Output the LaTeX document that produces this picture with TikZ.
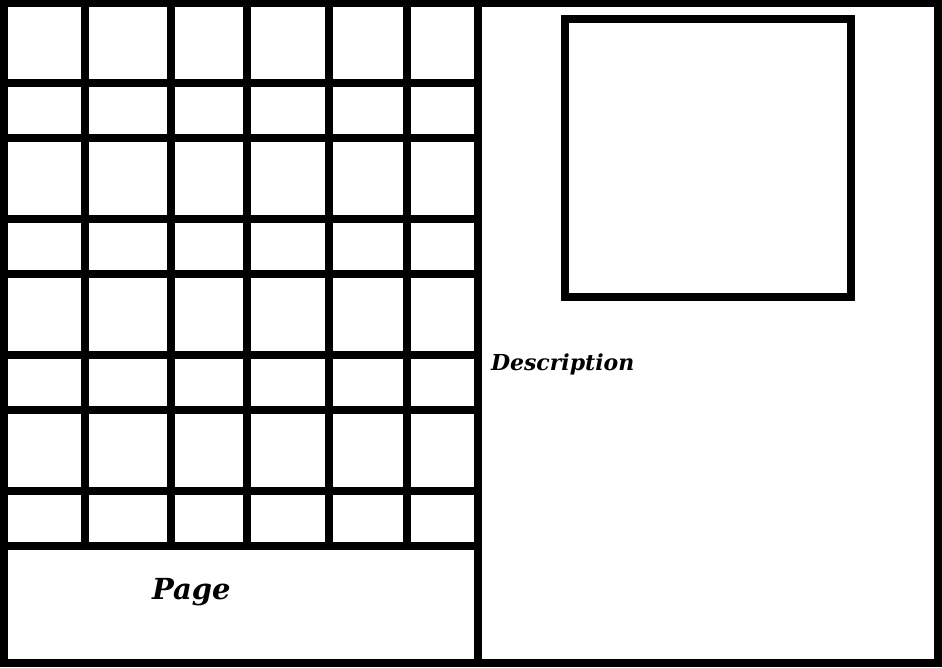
\documentclass[tikz,border=0pt]{standalone}
\usepackage{fontspec}
\newfontfamily\handfont{DejaVu Serif}

\begin{document}
\begin{tikzpicture}[x=1pt, y=-1pt, line width=8pt]

    \tikzset{frame/.style={draw, line join=miter}};
    \tikzset{label/.style={anchor=base west, inner sep=0pt}};

    \useasboundingbox (0, 0) rectangle (942, 667);

    %%%%%%%%%%%%%%%
    %   border    %
    %%%%%%%%%%%%%%%
    \path (4, 2.5) coordinate (tl);
    \path (938, 662.5) coordinate (br);
    \draw [frame] (tl) rectangle (br);
    \draw (478, 2.5) coordinate (midtop) -- (478, 662.5) coordinate (midbot);

    %%%%%%%%%%%%%%%
    %    grid     %
    %%%%%%%%%%%%%%%
    \foreach \y in {83, 138, 219, 274, 355, 410, 491, 546}
      \draw (4, \y) -- (478, \y);
    \foreach \x in {85, 171, 247, 329, 407}
      \draw (\x, 2.5) -- (\x, 546);

    %%%%%%%%%%%%%%%
    %   picture   %
    %%%%%%%%%%%%%%%
    \draw [frame] (565, 19) coordinate (pic) rectangle (851, 297) coordinate (picend);

    %%%%%%%%%%%%%%%
    %    texts    %
    %%%%%%%%%%%%%%%
    \node [label, font=\handfont\fontsize{22}{26}\selectfont\bfseries\itshape] (desc) at (487, 370) {Description};
    \node [label, font=\handfont\fontsize{29}{34}\selectfont\bfseries\itshape] (page) at (148, 599) {Page};

  \end{tikzpicture}
\end{document}
